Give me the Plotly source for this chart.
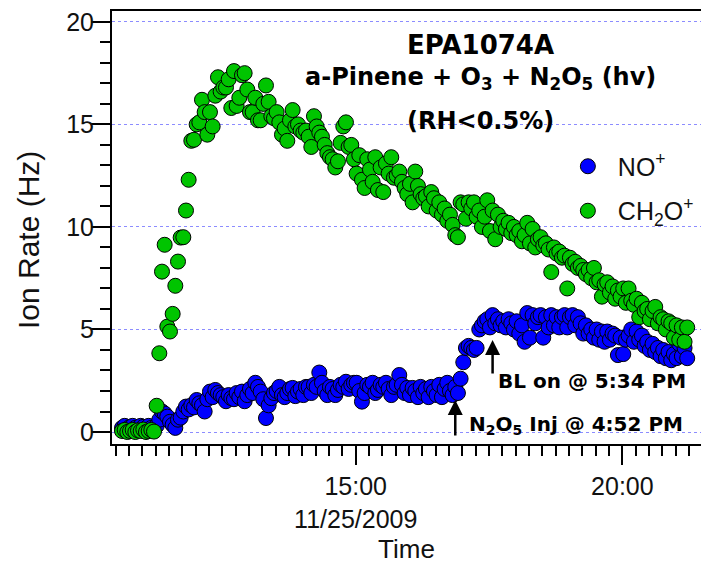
import pandas as pd
import plotly.graph_objects as go

# Sampling: one reading every 3 minutes starting 10:37 on 11/25/2009
start_time = "2009-11-25 10:37"
sample_step = "3min"

# NO+ ion rate (Hz)
no_plus = [
    0.2, 0.3, 0.15, 0.25, 0.3, 0.2, 0.1, 0.3, 0.25, 0.15, 0.3, 0.2, 0.1, 0.3,
    0.6, 1.0, 0.9, 0.75, 0.5, 0.35, 0.2, 0.6, 0.7, 1.0, 1.24, 1.1,
    1.3, 1.2, 1.56, 1.4, 1.3, 1.0, 1.6, 1.97, 1.7, 2.05, 1.9, 1.8,
    1.7, 1.5, 1.8, 1.65, 1.6, 1.9, 1.7, 1.97, 1.5, 1.8, 2.1, 1.9,
    2.4, 2.2, 1.97, 1.6, 0.68, 1.3, 1.65, 1.9, 2.0, 2.2, 1.8, 1.7,
    1.9, 2.1, 2.15, 1.75, 1.97, 2.1, 1.8, 2.2, 2.2, 1.9, 2.3, 2.2,
    2.9, 2.4, 2.0, 1.8, 2.2, 2.1, 1.8, 2.05, 2.3, 2.2, 2.45, 2.1,
    2.3, 2.4, 2.4, 2.0, 1.48, 1.9, 2.3, 2.2, 2.4, 1.9, 2.05, 2.3,
    2.2, 2.4, 2.1, 1.8, 2.2, 2.3, 2.78, 2.3, 1.9, 2.15, 1.8, 2.15,
    2.0, 1.7, 2.2, 1.9, 2.1, 1.7, 2.2, 2.0, 1.8, 2.3, 1.7, 2.1,
    2.4, 2.0, 1.8, 2.2, 1.9, 2.6, 3.4, 4.1, 4.2, 4.1, 4.0, 4.1,
    5.0, 5.2, 5.4, 5.5, 5.1, 5.7, 5.3, 5.5, 5.2, 5.4, 5.1, 5.5,
    5.3, 5.0, 5.4, 4.8, 5.2, 4.4, 5.8, 4.6, 5.7, 5.3, 5.6, 5.7,
    4.6, 5.6, 5.1, 5.7, 5.2, 5.6, 5.1, 5.6, 5.7, 5.1, 5.6, 5.7,
    5.2, 5.6, 5.3, 4.8, 5.2, 4.8, 5.0, 4.6, 5.0, 4.5, 4.9, 4.4,
    4.9, 4.5, 4.8, 4.7, 3.75, 4.6, 3.8, 4.5, 4.7, 5.0, 4.4, 4.9,
    4.5, 4.7, 4.2, 4.4, 4.0, 4.3, 3.9, 4.1, 3.7, 4.0, 3.6, 3.9,
    3.5, 3.8, 3.6, 4.3, 3.7, 4.1, 3.6,
]

# CH2O+ ion rate (Hz)
ch2o_plus = [
    0.05, 0.1, 0.0, 0.05, 0.1, 0.0, 0.08, 0.05, 0.12, 0.0, 0.05, 0.1, 0.02,
    1.28, 3.84, 7.82, 9.13, 5.14, 4.9, 5.76, 7.13, 8.31, 9.48, 9.5, 10.8, 12.3, 14.2, 14.25, 15.0,
    15.1, 16.2, 15.6, 14.5, 15.6, 14.9, 16.4, 17.3, 16.6, 16.8, 16.8, 17.2,
    15.8, 17.6, 15.9, 16.3, 17.4, 17.5, 16.7, 15.6, 15.6, 16.3, 15.2, 15.2,
    16.0, 16.9, 16.1, 15.4, 15.3, 15.6, 15.1, 14.5, 14.8, 14.2, 15.2, 15.7,
    14.9, 15.0, 14.7, 14.6, 14.7, 14.4, 13.9, 15.4, 14.9, 14.6, 14.4, 14.0,
    13.6, 13.4, 13.3, 12.9, 13.2, 14.1, 14.9, 15.1, 13.9, 14.0,
    13.3, 12.6, 13.5, 12.3, 11.9, 13.3, 12.8, 12.2, 13.4, 11.8, 12.9, 11.7,
    13.1, 12.6, 13.4, 12.4, 12.5, 12.7, 12.2, 11.9, 11.6, 12.1, 11.2, 12.7,
    12.0, 11.6, 11.4, 11.5, 11.0, 11.7, 11.4, 10.8, 11.2, 10.6, 10.9, 10.3,
    10.6, 10.1, 9.6, 9.5, 11.2, 11.1, 10.4, 11.2, 10.9, 11.2, 10.5, 10.8,
    10.0, 10.5, 11.3, 9.8, 10.8, 9.4, 10.6, 10.0, 10.3, 9.9, 10.2, 9.7,
    10.0, 9.6, 9.8, 9.3, 9.6, 10.2, 9.2, 9.9, 9.0, 9.4, 9.5, 9.1,
    9.2, 8.9, 7.8, 9.0, 8.7, 8.8, 8.5, 8.6, 7.0, 8.5, 8.2, 8.3,
    8.0, 8.1, 7.9, 7.7, 7.9, 7.5, 8.0, 7.3, 7.4, 6.6, 7.2, 7.3,
    6.8, 7.1, 6.5, 6.9, 6.6, 7.0, 6.3, 7.0, 6.4, 6.2, 6.5, 5.6,
    6.3, 5.9, 6.0, 5.5, 5.9, 6.1, 5.3, 5.6, 5.5, 5.0, 5.4, 5.3,
    4.6, 5.2, 4.5, 5.1, 4.4, 5.1,
]

times = pd.date_range(start_time, periods=len(no_plus), freq=sample_step)

# Event markers
n2o5_injection = "2009-11-25 16:52"
black_lights_on = "2009-11-25 17:34"

# Axis settings
x_range = ["2009-11-25 10:25:45", "2009-11-25 21:28:30"]
y_range = [-0.585, 20.53]
major_ticks = ["2009-11-25 15:00", "2009-11-25 20:00"]
major_labels = ["15:00<br>11/25/2009", "20:00"]

sans = "Liberation Sans, Arial, sans-serif"
bold = "DejaVu Sans, sans-serif"

fig = go.Figure()
fig.add_trace(go.Scatter(
    x=times, y=no_plus, mode="markers", name="NO<sup>+</sup>",
    legendgroup="no", legendrank=1,
    marker=dict(size=15, color="#0000ff", line=dict(color="#000000", width=1)),
))
fig.add_trace(go.Scatter(
    x=times, y=ch2o_plus, mode="markers", name="CH<sub>2</sub>O<sup>+</sup>",
    legendgroup="ch2o", legendrank=2,
    marker=dict(size=15, color="#00c400", line=dict(color="#000000", width=1)),
))

title_lines = [
    ("<b>EPA1074A</b>", 0.921, 26),
    ("<b>a-Pinene + O<sub>3</sub> + N<sub>2</sub>O<sub>5</sub> (hv)</b>", 0.843, 24),
    ("<b>(RH&lt;0.5%)</b>", 0.746, 24),
]
annotations = []
for text, ypos, size in title_lines:
    annotations.append(dict(
        text=text, xref="paper", yref="paper", x=0.625, y=ypos,
        xanchor="center", yanchor="middle", showarrow=False,
        font=dict(family=bold, size=size, color="#000000"),
    ))

# Event arrows
for when, tip, tail in [(n2o5_injection, 1.56, -0.24), (black_lights_on, 4.49, 2.78)]:
    annotations.append(dict(
        x=when, y=tip, ax=when, ay=tail, xref="x", yref="y", axref="x", ayref="y",
        text="", showarrow=True, arrowhead=2, arrowsize=1.2, arrowwidth=2.5,
        arrowcolor="#000000", standoff=0, startstandoff=0,
    ))

annotations.append(dict(
    text="<b>BL on @ 5:34 PM</b>", xref="paper", yref="paper", x=0.6520, y=0.1455,
    xanchor="left", yanchor="middle", showarrow=False,
    font=dict(family=bold, size=20, color="#000000"),
))
annotations.append(dict(
    text="<b>N<sub>2</sub>O<sub>5</sub> Inj @ 4:52 PM</b>", xref="paper", yref="paper",
    x=0.6025, y=0.044, xanchor="left", yanchor="middle", showarrow=False,
    font=dict(family=bold, size=20, color="#000000"),
))

# Y-axis title
annotations.append(dict(
    text="Ion Rate (Hz)", xref="paper", yref="paper", x=-0.1426, y=0.471,
    xanchor="center", yanchor="middle", textangle=-90, showarrow=False,
    font=dict(family=sans, size=30, color="#111111"),
))

fig.update_layout(
    width=701, height=566,
    margin=dict(l=112, r=0, t=11, b=122),
    paper_bgcolor="#ffffff", plot_bgcolor="#ffffff",
    font=dict(family=sans, size=25, color="#111111"),
    showlegend=True,
    legend=dict(
        x=0.757, y=0.694, xanchor="left", yanchor="top",
        bgcolor="rgba(0,0,0,0)", font=dict(family=sans, size=25),
        itemsizing="trace", itemwidth=50, traceorder="grouped", tracegroupgap=9,
    ),
    annotations=annotations,
    xaxis=dict(
        type="date", range=x_range,
        tickmode="array", tickvals=major_ticks, ticktext=major_labels,
        ticks="outside", ticklen=19, tickwidth=2, tickcolor="#000000",
        showline=True, linecolor="#000000", linewidth=2, mirror=True,
        showgrid=False, zeroline=False,
        tickfont=dict(family=sans, size=25),
        minor=dict(tickmode="linear", tick0="2009-11-25 10:00", dtick=900000,
                   ticks="outside", ticklen=10, tickwidth=2, tickcolor="#000000",
                   showgrid=False),
        title=dict(text="Time", font=dict(family=sans, size=26), standoff=8),
    ),
    xaxis2=dict(
        type="date", range=x_range, overlaying="x", anchor="y", side="bottom",
        tickmode="linear", tick0="2009-11-25 10:00", dtick=1800000,
        ticks="outside", ticklen=14, tickwidth=2, tickcolor="#000000",
        showticklabels=False, showline=False, showgrid=False, zeroline=False,
    ),
    yaxis=dict(
        range=y_range, tickmode="linear", tick0=0, dtick=5,
        ticks="outside", ticklen=19, tickwidth=2, tickcolor="#000000",
        showline=True, linecolor="#000000", linewidth=2, mirror=False,
        showgrid=True, gridcolor="#8c8cff", gridwidth=1, griddash="dot",
        zeroline=False,
        tickfont=dict(family=sans, size=25), ticklabelstandoff=-8,
        minor=dict(tickmode="linear", tick0=0, dtick=1, ticks="outside",
                   ticklen=10, tickwidth=2, tickcolor="#000000", showgrid=False),
    ),
)

fig.write_html("out.html")
